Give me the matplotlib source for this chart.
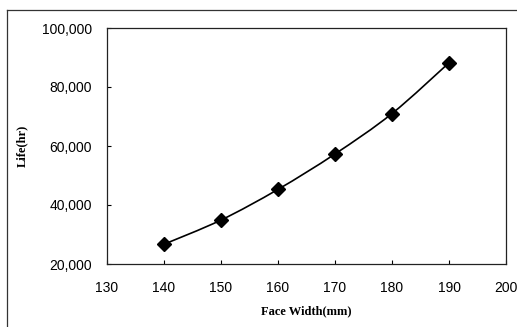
import numpy as np
from matplotlib import pyplot as plt
from matplotlib.lines import Line2D
from matplotlib.path import Path
from matplotlib.patches import PathPatch
from matplotlib.ticker import FuncFormatter

face_width = [140, 150, 160, 170, 180, 190]
life_hr = [26700, 34900, 45300, 57300, 71000, 88200]

x_ticks = [130, 140, 150, 160, 170, 180, 190, 200]
y_ticks = [20000, 40000, 60000, 80000, 100000]


def smooth_path(xs, ys, tension=1 / 6):
    # Excel-style smoothed line: Catmull-Rom converted to cubic Bezier segments
    pts = np.column_stack([xs, ys]).astype(float)
    verts = [pts[0]]
    codes = [Path.MOVETO]
    n = len(pts)
    for i in range(n - 1):
        p0 = pts[max(i - 1, 0)]
        p1 = pts[i]
        p2 = pts[i + 1]
        p3 = pts[min(i + 2, n - 1)]
        c1 = p1 + (p2 - p0) * tension
        c2 = p2 - (p3 - p1) * tension
        verts += [c1, c2, p2]
        codes += [Path.CURVE4] * 3
    return Path(verts, codes)


fig = plt.figure(figsize=(5.17, 3.27), dpi=100)
ax = fig.add_axes([107 / 517, 1 - 264 / 327, (506 - 107) / 517, (264 - 28) / 327])

ax.add_patch(PathPatch(smooth_path(face_width, life_hr), fill=False,
                       edgecolor="black", linewidth=1.2))
ax.plot(face_width, life_hr, linestyle="none", marker="D", markersize=7.5,
        color="black")

ax.set_xlim(130, 200)
ax.set_ylim(20000, 100000)
ax.set_xticks(x_ticks)
ax.set_yticks(y_ticks)
ax.yaxis.set_major_formatter(FuncFormatter(lambda v, p: f"{int(v):,}"))
ax.tick_params(direction="in", length=3, width=0.8, labelsize=10)
ax.tick_params(axis="x", pad=12)
ax.tick_params(axis="y", pad=11)
for lbl in ax.get_xticklabels() + ax.get_yticklabels():
    lbl.set_family("Liberation Sans")
for s in ax.spines.values():
    s.set_linewidth(0.9)
    s.set_color("#222222")

ax.set_xlabel("Face Width(mm)", family="Liberation Serif", fontsize=9,
              fontweight="bold", labelpad=8)
ax.set_ylabel("Life(hr)", family="Liberation Serif", fontsize=9,
              fontweight="bold", labelpad=10)

# outer chart-area frame (left and top edges visible)
fig.add_artist(Line2D([7 / 517, 7 / 517], [0, 1 - 10 / 327],
                      transform=fig.transFigure, color="#333333", linewidth=0.9))
fig.add_artist(Line2D([7 / 517, 1], [1 - 10 / 327, 1 - 10 / 327],
                      transform=fig.transFigure, color="#333333", linewidth=0.9))

fig.savefig("out.png", dpi=100)
